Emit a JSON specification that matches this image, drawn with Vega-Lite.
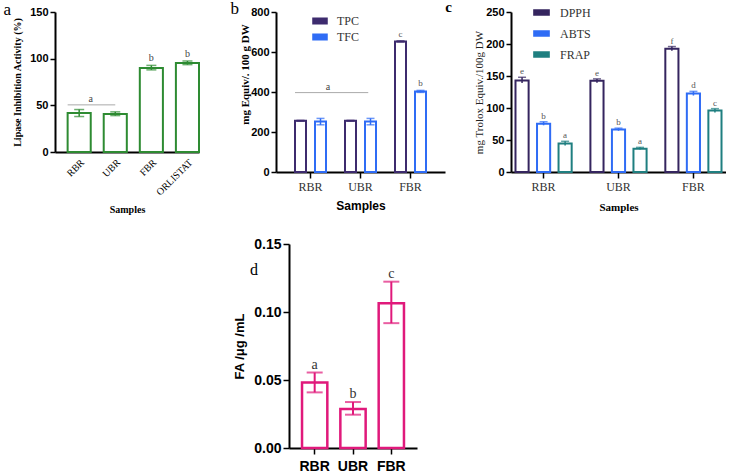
{
  "$schema": "https://vega.github.io/schema/vega-lite/v6.json",
  "padding": {"left": 3, "top": 0, "right": 0, "bottom": 0},
  "background": "white",
  "config": {
    "view": {"stroke": null},
    "axis": {"domainColor": "black", "domainWidth": 2, "tickColor": "black", "tickWidth": 1.5, "labelColor": "black", "titleColor": "black", "grid": false, "tickSize": 5, "labelPadding": 2, "labelOverlap": false},
    "legend": {"padding": 0}
  },
  "datasets": {
    "lipase": [
      {"s": "RBR", "v": 41.8, "lo": 38, "hi": 45.5, "sig": ""},
      {"s": "UBR", "v": 40.8, "lo": 39, "hi": 43, "sig": ""},
      {"s": "FBR", "v": 90, "lo": 88, "hi": 92.8, "sig": "b"},
      {"s": "ORLISTAT", "v": 95.4, "lo": 93.6, "hi": 97.5, "sig": "b"}
    ],
    "lipaseBracket": [{"x1": "RBR", "x2": "UBR", "y": 50.5, "label": "a"}],
    "phenol": [
      {"s": "RBR", "m": "TPC", "v": 256, "lo": 254, "hi": 258, "sig": ""},
      {"s": "RBR", "m": "TFC", "v": 253, "lo": 236, "hi": 268, "sig": ""},
      {"s": "UBR", "m": "TPC", "v": 256, "lo": 254, "hi": 258, "sig": ""},
      {"s": "UBR", "m": "TFC", "v": 253, "lo": 236, "hi": 268, "sig": ""},
      {"s": "FBR", "m": "TPC", "v": 653, "lo": 650, "hi": 656, "sig": "c"},
      {"s": "FBR", "m": "TFC", "v": 403, "lo": 398, "hi": 408, "sig": "b"}
    ],
    "phenolBracket": [{"x1": "RBR", "x2": "UBR", "y": 397, "label": "a"}],
    "antiox": [
      {"s": "RBR", "m": "DPPH", "v": 143, "lo": 139, "hi": 148, "sig": "e"},
      {"s": "RBR", "m": "ABTS", "v": 75.5, "lo": 73, "hi": 78.5, "sig": "b"},
      {"s": "RBR", "m": "FRAP", "v": 44.5, "lo": 41.5, "hi": 48, "sig": "a"},
      {"s": "UBR", "m": "DPPH", "v": 142.5, "lo": 139.5, "hi": 145.5, "sig": "e"},
      {"s": "UBR", "m": "ABTS", "v": 66.5, "lo": 64.5, "hi": 68.5, "sig": "b"},
      {"s": "UBR", "m": "FRAP", "v": 36.5, "lo": 35, "hi": 38.5, "sig": "a"},
      {"s": "FBR", "m": "DPPH", "v": 192.5, "lo": 189.5, "hi": 196, "sig": "f"},
      {"s": "FBR", "m": "ABTS", "v": 122.5, "lo": 119.5, "hi": 126, "sig": "d"},
      {"s": "FBR", "m": "FRAP", "v": 96, "lo": 93, "hi": 99, "sig": "c"}
    ],
    "fa": [
      {"s": "RBR", "v": 0.0482, "lo": 0.0409, "hi": 0.0555, "sig": "a"},
      {"s": "UBR", "v": 0.0286, "lo": 0.0245, "hi": 0.0338, "sig": "b"},
      {"s": "FBR", "v": 0.1064, "lo": 0.0918, "hi": 0.1223, "sig": "c"}
    ],
    "spacer": [{"k": 0}]
  },
  "spacing": 22,
  "resolve": {"scale": {"stroke": "independent", "color": "independent", "xOffset": "independent", "x": "independent", "y": "independent"}, "legend": {"stroke": "independent", "color": "independent"}},
  "vconcat": [
    {
      "spacing": 30,
      "resolve": {"scale": {"stroke": "independent", "color": "independent", "xOffset": "independent", "x": "independent", "y": "independent"}, "legend": {"stroke": "independent", "color": "independent"}},
      "hconcat": [
        {
          "width": 144,
          "height": 140,
          "title": {"text": "a", "orient": "left", "anchor": "end", "angle": 0, "baseline": "top", "align": "left", "font": "Liberation Serif", "fontSize": 17, "fontWeight": "normal", "offset": 1, "dy": -4, "color": "black"},
          "layer": [
            {
              "data": {"name": "lipase"},
              "mark": {"type": "bar", "fill": "white", "stroke": "#2e8b32", "strokeWidth": 2},
              "encoding": {
                "x": {"field": "s", "type": "nominal", "sort": null,
                  "scale": {"domain": ["RBR", "UBR", "FBR", "ORLISTAT"], "paddingInner": 0.36, "paddingOuter": 0.175, "align": 1},
                  "axis": {"title": "Samples", "labelAngle": -45, "labelFont": "Liberation Serif", "labelFontSize": 10, "ticks": false, "labelPadding": 5, "titleFont": "Liberation Serif", "titleFontSize": 10, "titleFontWeight": "bold", "titlePadding": 8}},
                "y": {"field": "v", "type": "quantitative",
                  "scale": {"domain": [0, 150], "nice": false},
                  "axis": {"title": "Lipase Inhibition Activity (%)", "values": [0, 50, 100, 150], "tickCount": 10, "labelOverlap": false, "labelFont": "Liberation Sans", "labelFontWeight": "bold", "labelFontSize": 11, "titleFont": "Liberation Serif", "titleFontSize": 10, "titleFontWeight": "bold", "titleX": -33}}
              }
            },
            {
              "data": {"name": "lipase"},
              "mark": {"type": "rule", "stroke": "#2e8b32", "strokeWidth": 1.5},
              "encoding": {"x": {"field": "s", "type": "nominal"}, "y": {"field": "lo", "type": "quantitative"}, "y2": {"field": "hi"}}
            },
            {
              "data": {"name": "lipase"},
              "mark": {"type": "tick", "color": "#2e8b32", "size": 10, "thickness": 1.5},
              "encoding": {"x": {"field": "s", "type": "nominal"}, "y": {"field": "lo", "type": "quantitative"}}
            },
            {
              "data": {"name": "lipase"},
              "mark": {"type": "tick", "color": "#2e8b32", "size": 10, "thickness": 1.5},
              "encoding": {"x": {"field": "s", "type": "nominal"}, "y": {"field": "hi", "type": "quantitative"}}
            },
            {
              "data": {"name": "lipase"},
              "mark": {"type": "text", "font": "Liberation Serif", "fontSize": 10, "color": "#444", "baseline": "bottom", "dy": -2},
              "encoding": {"x": {"field": "s", "type": "nominal"}, "y": {"field": "hi", "type": "quantitative"}, "text": {"field": "sig"}}
            },
            {
              "data": {"name": "lipaseBracket"},
              "mark": {"type": "rule", "stroke": "#aaaaaa", "strokeWidth": 1},
              "encoding": {"x": {"field": "x1", "type": "nominal", "bandPosition": 0}, "x2": {"field": "x2", "bandPosition": 0.5}, "y": {"field": "y", "type": "quantitative"}}
            },
            {
              "data": {"name": "lipaseBracket"},
              "mark": {"type": "text", "font": "Liberation Serif", "fontSize": 10, "color": "#444", "baseline": "bottom", "dy": -1},
              "encoding": {"x": {"field": "x1", "type": "nominal", "bandPosition": 1}, "y": {"field": "y", "type": "quantitative"}, "text": {"field": "label"}}
            }
          ]
        },
        {
          "spacing": 0,
          "resolve": {"scale": {"stroke": "independent", "color": "independent", "xOffset": "independent", "x": "independent", "y": "independent"}, "legend": {"stroke": "independent", "color": "independent"}},
          "hconcat": [
            {
              "width": 169,
              "height": 160,
              "title": {"text": "b", "orient": "left", "anchor": "end", "angle": 0, "baseline": "top", "align": "left", "font": "Liberation Serif", "fontSize": 17, "fontWeight": "normal", "offset": 0, "dy": -5, "color": "black"},
              "layer": [
                {
                  "data": {"name": "phenol"},
                  "mark": {"type": "bar", "fill": "white", "strokeWidth": 2},
                  "encoding": {
                    "x": {"field": "s", "type": "nominal",
                      "scale": {"domain": ["RBR", "UBR", "FBR"], "paddingInner": 0.38, "paddingOuter": 0.38},
                      "axis": {"title": "Samples", "labelAngle": 0, "labelFont": "Liberation Serif", "labelFontSize": 12, "labelColor": "#333", "tickSize": 6, "labelPadding": 3, "titleFont": "Liberation Sans", "titleFontSize": 12, "titleFontWeight": "bold", "titlePadding": 8}},
                    "xOffset": {"field": "m", "type": "nominal", "scale": {"domain": ["TPC", "TFC"], "paddingInner": 0.45, "paddingOuter": 0}},
                    "y": {"field": "v", "type": "quantitative",
                      "scale": {"domain": [0, 800], "nice": false},
                      "axis": {"title": "mg Equiv/. 100 g DW", "values": [0, 200, 400, 600, 800], "tickCount": 10, "labelOverlap": false, "labelFont": "Liberation Sans", "labelFontWeight": "bold", "labelFontSize": 11, "titleFont": "Liberation Serif", "titleFontSize": 11, "titleFontWeight": "bold", "titleX": -26, "titleY": 62}},
                    "stroke": {"field": "m", "type": "nominal",
                      "scale": {"domain": ["TPC", "TFC"], "range": ["#3d2b6e", "#2f6cf5"]},
                      "legend": {"title": null, "orient": "none", "legendX": 36, "legendY": 1, "symbolType": "M-1,-0.35H1V0.35H-1Z", "symbolSize": 170, "symbolStrokeWidth": 2.5, "symbolFillColor": "white", "labelFont": "Liberation Serif", "labelFontSize": 12, "labelColor": "#333", "rowPadding": -1, "labelOffset": 9}}
                  }
                },
                {
                  "data": {"name": "phenol"},
                  "mark": {"type": "rule", "strokeWidth": 1.5},
                  "encoding": {"x": {"field": "s", "type": "nominal"}, "xOffset": {"field": "m", "type": "nominal"}, "y": {"field": "lo", "type": "quantitative"}, "y2": {"field": "hi"}, "stroke": {"field": "m", "type": "nominal"}}
                },
                {
                  "data": {"name": "phenol"},
                  "mark": {"type": "tick", "size": 8, "thickness": 1.5},
                  "encoding": {"x": {"field": "s", "type": "nominal"}, "xOffset": {"field": "m", "type": "nominal"}, "y": {"field": "hi", "type": "quantitative"}, "color": {"field": "m", "type": "nominal", "scale": {"domain": ["TPC", "TFC"], "range": ["#3d2b6e", "#2f6cf5"]}, "legend": null}}
                },
                {
                  "data": {"name": "phenol"},
                  "mark": {"type": "tick", "size": 8, "thickness": 1.5},
                  "encoding": {"x": {"field": "s", "type": "nominal"}, "xOffset": {"field": "m", "type": "nominal"}, "y": {"field": "lo", "type": "quantitative"}, "color": {"field": "m", "type": "nominal", "legend": null}}
                },
                {
                  "data": {"name": "phenol"},
                  "mark": {"type": "text", "font": "Liberation Serif", "fontSize": 9, "color": "#555", "baseline": "bottom", "dy": -2},
                  "encoding": {"x": {"field": "s", "type": "nominal"}, "xOffset": {"field": "m", "type": "nominal"}, "y": {"field": "hi", "type": "quantitative"}, "text": {"field": "sig"}}
                },
                {
                  "data": {"name": "phenolBracket"},
                  "mark": {"type": "rule", "stroke": "#aaaaaa", "strokeWidth": 1},
                  "encoding": {"x": {"field": "x1", "type": "nominal", "bandPosition": 0}, "x2": {"field": "x2", "bandPosition": 0.75}, "y": {"field": "y", "type": "quantitative"}}
                },
                {
                  "data": {"name": "phenolBracket"},
                  "mark": {"type": "text", "font": "Liberation Serif", "fontSize": 10, "color": "#444", "baseline": "bottom", "dy": -1},
                  "encoding": {"x": {"field": "x1", "type": "nominal", "bandPosition": 1.06}, "y": {"field": "y", "type": "quantitative"}, "text": {"field": "label"}}
                }
              ]
            },
            {
              "width": 215,
              "height": 160,
              "title": {"text": "c", "orient": "left", "anchor": "end", "angle": 0, "baseline": "top", "align": "left", "font": "Liberation Serif", "fontSize": 15, "fontWeight": "bold", "offset": 21, "dy": -4, "color": "black"},
              "layer": [
                {
                  "data": {"name": "antiox"},
                  "mark": {"type": "bar", "fill": "white", "strokeWidth": 2},
                  "encoding": {
                    "x": {"field": "s", "type": "nominal",
                      "scale": {"domain": ["RBR", "UBR", "FBR"], "paddingInner": 0.25, "paddingOuter": 0.06},
                      "axis": {"title": "Samples", "labelAngle": 0, "labelFont": "Liberation Serif", "labelFontSize": 12, "labelColor": "#333", "tickSize": 6, "labelPadding": 3, "titleFont": "Liberation Serif", "titleFontSize": 11, "titleFontWeight": "bold", "titlePadding": 9}},
                    "xOffset": {"field": "m", "type": "nominal", "scale": {"domain": ["DPPH", "ABTS", "FRAP"], "paddingInner": 0.39, "paddingOuter": 0}},
                    "y": {"field": "v", "type": "quantitative",
                      "scale": {"domain": [0, 250], "nice": false},
                      "axis": {"title": "mg Trolox Equiv./100g DW", "values": [0, 50, 100, 150, 200, 250], "tickCount": 10, "labelOverlap": false, "labelFont": "Liberation Sans", "labelFontWeight": "bold", "labelFontSize": 11, "titleFont": "Liberation Serif", "titleFontSize": 11, "titleFontWeight": "normal", "titleColor": "#222", "titleX": -27}},
                    "stroke": {"field": "m", "type": "nominal",
                      "scale": {"domain": ["DPPH", "ABTS", "FRAP"], "range": ["#35255f", "#2f6cf5", "#1f7f80"]},
                      "legend": {"title": null, "orient": "none", "legendX": 22, "legendY": -8, "symbolType": "M-1,-0.3H1V0.3H-1Z", "symbolSize": 200, "symbolStrokeWidth": 2.5, "symbolFillColor": "white", "labelFont": "Liberation Serif", "labelFontSize": 12, "labelColor": "#333", "rowPadding": 5, "labelOffset": 10}}
                  }
                },
                {
                  "data": {"name": "antiox"},
                  "mark": {"type": "rule", "strokeWidth": 1.5},
                  "encoding": {"x": {"field": "s", "type": "nominal"}, "xOffset": {"field": "m", "type": "nominal"}, "y": {"field": "lo", "type": "quantitative"}, "y2": {"field": "hi"}, "stroke": {"field": "m", "type": "nominal"}}
                },
                {
                  "data": {"name": "antiox"},
                  "mark": {"type": "tick", "size": 8, "thickness": 1.5},
                  "encoding": {"x": {"field": "s", "type": "nominal"}, "xOffset": {"field": "m", "type": "nominal"}, "y": {"field": "hi", "type": "quantitative"}, "color": {"field": "m", "type": "nominal", "scale": {"domain": ["DPPH", "ABTS", "FRAP"], "range": ["#35255f", "#2f6cf5", "#1f7f80"]}, "legend": null}}
                },
                {
                  "data": {"name": "antiox"},
                  "mark": {"type": "text", "font": "Liberation Serif", "fontSize": 9, "color": "#555", "baseline": "bottom", "dy": -1},
                  "encoding": {"x": {"field": "s", "type": "nominal"}, "xOffset": {"field": "m", "type": "nominal"}, "y": {"field": "hi", "type": "quantitative"}, "text": {"field": "sig"}}
                }
              ]
            }
          ]
        }
      ]
    },
    {
      "spacing": 0,
      "hconcat": [
        {
          "width": 178,
          "height": 10,
          "data": {"name": "spacer"},
          "mark": {"type": "rule", "opacity": 0},
          "encoding": {}
        },
        {
          "width": 128,
          "height": 204,
          "title": {"text": "d", "orient": "left", "anchor": "end", "angle": 0, "baseline": "top", "align": "left", "font": "Liberation Serif", "fontSize": 16, "fontWeight": "normal", "offset": -25, "dy": 25, "color": "black"},
          "layer": [
            {
              "data": {"name": "fa"},
              "mark": {"type": "bar", "fill": "white", "stroke": "#e0197b", "strokeWidth": 2.5},
              "encoding": {
                "x": {"field": "s", "type": "nominal",
                  "scale": {"domain": ["RBR", "UBR", "FBR"], "paddingInner": 0.34, "paddingOuter": 0.34},
                  "axis": {"title": null, "labelAngle": 0, "labelFont": "Liberation Sans", "labelFontWeight": "bold", "labelFontSize": 14, "tickSize": 6, "labelPadding": 5}},
                "y": {"field": "v", "type": "quantitative",
                  "scale": {"domain": [0, 0.15], "nice": false},
                  "axis": {"title": "FA /μg /mL", "values": [0, 0.05, 0.1, 0.15], "tickCount": 10, "labelOverlap": false, "format": ".2f", "labelFont": "Liberation Sans", "labelFontWeight": "bold", "labelFontSize": 14, "tickSize": 6, "titleFont": "Liberation Sans", "titleFontSize": 13, "titleFontWeight": "bold", "titleX": -43}}
              }
            },
            {
              "data": {"name": "fa"},
              "mark": {"type": "rule", "stroke": "#e0197b", "strokeWidth": 2},
              "encoding": {"x": {"field": "s", "type": "nominal"}, "y": {"field": "lo", "type": "quantitative"}, "y2": {"field": "hi"}}
            },
            {
              "data": {"name": "fa"},
              "mark": {"type": "tick", "color": "#e0197b", "size": 16, "thickness": 2},
              "encoding": {"x": {"field": "s", "type": "nominal"}, "y": {"field": "lo", "type": "quantitative"}}
            },
            {
              "data": {"name": "fa"},
              "mark": {"type": "tick", "color": "#e0197b", "size": 16, "thickness": 2},
              "encoding": {"x": {"field": "s", "type": "nominal"}, "y": {"field": "hi", "type": "quantitative"}}
            },
            {
              "data": {"name": "fa"},
              "mark": {"type": "text", "font": "Liberation Serif", "fontSize": 14, "color": "#333", "baseline": "bottom", "dy": -1},
              "encoding": {"x": {"field": "s", "type": "nominal"}, "y": {"field": "hi", "type": "quantitative"}, "text": {"field": "sig"}}
            }
          ]
        }
      ]
    }
  ]
}
